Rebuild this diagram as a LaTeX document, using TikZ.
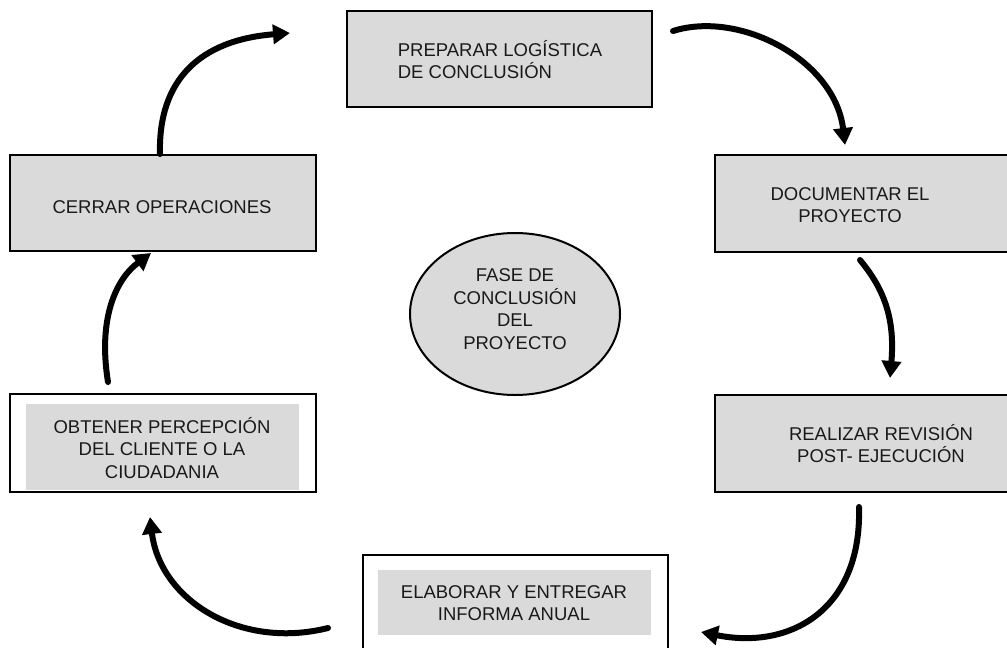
\documentclass[tikz,border=0pt]{standalone}
\usepackage{fontspec}
\setmainfont{Liberation Sans}
\usetikzlibrary{arrows.meta,shapes.geometric}
\definecolor{boxgray}{RGB}{218,218,218}
\begin{document}
\begin{tikzpicture}[x=1pt,y=-1pt,
  boxshape/.style={draw=black, line width=2pt, fill=boxgray, rectangle, inner sep=0pt, anchor=north west},
  whitebox/.style={boxshape, fill=white},
  innergray/.style={rectangle, fill=boxgray, draw=none, inner sep=0pt, anchor=north west},
  label text/.style={font=\fontsize{18.5}{22.5}\selectfont, align=center, inner sep=0pt, text=black!90},
  flow/.style={line width=6pt, line cap=round, -{Triangle[length=17pt,width=19pt]}}
]
\useasboundingbox (0,0) rectangle (1007,648);
\clip (0,0) rectangle (1007,648);
\fill[white] (0,0) rectangle (1007,648);

% boxes
\node[boxshape, minimum width=305pt, minimum height=96pt] (preparar) at (346,10) {};
\node[boxshape, minimum width=305pt, minimum height=97pt] (documentar) at (714,154) {};
\node[boxshape, minimum width=305pt, minimum height=97pt] (realizar) at (714,394) {};
\node[whitebox, minimum width=305pt, minimum height=110pt] (elaborar) at (362,554) {};
\node[innergray, minimum width=273pt, minimum height=65pt] (elaborar-in) at (378,570) {};
\node[whitebox, minimum width=306pt, minimum height=98pt] (obtener) at (9,393) {};
\node[innergray, minimum width=273pt, minimum height=86pt] (obtener-in) at (26,404) {};
\node[boxshape, minimum width=306pt, minimum height=96pt] (cerrar) at (9,154) {};
\node[draw=black, line width=2pt, fill=boxgray, ellipse, inner sep=0pt,
      minimum width=210pt, minimum height=162pt] (fase) at (515,314) {};

% texts
\node[label text, align=left] (preparar-t) at (500,59.5) {PREPARAR LOGÍSTICA\\DE CONCLUSIÓN};
\node[label text] (documentar-t) at (850,205) {DOCUMENTAR EL\\PROYECTO};
\node[label text] (realizar-t) at (881,443.5) {REALIZAR REVISIÓN\\POST- EJECUCIÓN};
\node[label text] (elaborar-t) at (514,603) {ELABORAR Y ENTREGAR\\INFORMA ANUAL};
\node[label text] (obtener-t) at (162,448) {OBTENER PERCEPCIÓN\\DEL CLIENTE O LA\\CIUDADANIA};
\node[label text] (cerrar-t) at (162,207) {CERRAR OPERACIONES};
\node[label text] (fase-t) at (515,309) {FASE DE\\CONCLUSIÓN\\DEL\\PROYECTO};

% arrow end points
\coordinate (a1s) at (160,154);
\coordinate (a1e) at (290,33);
\coordinate (a2s) at (673,31);
\coordinate (a2e) at (845,145);
\coordinate (a3s) at (860,260);
\coordinate (a3e) at (890,378);
\coordinate (a4s) at (859,507);
\coordinate (a4e) at (701,632);
\coordinate (a5s) at (328,628);
\coordinate (a5e) at (150,517);
\coordinate (a6s) at (108,382);
\coordinate (a6e) at (151,253);

% arrows
\draw[flow] (a1s) .. controls (158,80) and (200,40) .. (a1e);
\draw[flow] (a2s) .. controls (740,10) and (835,60) .. (a2e);
\draw[flow] (a3s) .. controls (885,290) and (895,320) .. (a3e);
\draw[flow] (a4s) .. controls (862,610) and (790,650) .. (a4e);
\draw[flow] (a5s) .. controls (240,650) and (160,600) .. (a5e);
\draw[flow] (a6s) .. controls (98,320) and (115,280) .. (a6e);
\end{tikzpicture}
\end{document}
